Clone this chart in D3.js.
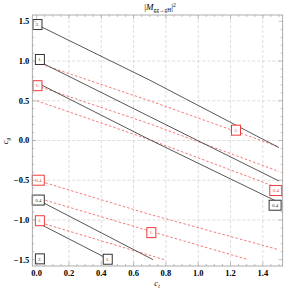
<!DOCTYPE html>
<html>
<head>
<meta charset="utf-8">
<script src="https://cdn.jsdelivr.net/npm/d3@7"></script>
<style>
  body { margin: 0; background: #fff; }
  text { font-family: "Liberation Serif", "DejaVu Serif", serif; }
</style>
</head>
<body>
<div id="chart"></div>
<script>
// contour lines, points as [c_t, c_g]
const blackLines = [
  { label: '2.',  pts: [[0, 1.46], [0.7, 0.76], [1.5, -0.09]] },
  { label: '1.',  pts: [[0, 1.01], [0.7, 0.30], [1.5, -0.51]] },
  { label: '0.4', pts: [[0, 0.73], [0.7, 0.01], [1.5, -0.78]] },
  { label: '0.4', pts: [[0, -0.74], [0.72, -1.5]] },
  { label: '1.',  pts: [[0, -1.03], [0.45, -1.5]] }
];
const redLines = [
  { label: '2.',  pts: [[0, 0.98], [0.7, 0.50], [1.5, -0.08]] },
  { label: '1.',  pts: [[0, 0.69], [0.7, 0.21], [1.5, -0.39]] },
  { label: '0.4', pts: [[0, 0.50], [0.7, 0.01], [1.5, -0.60]] },
  { label: '0.4', pts: [[0, -0.50], [0.7, -0.93], [1.49, -1.37]] },
  { label: '1.',  pts: [[0, -0.72], [0.7, -1.14], [1.31, -1.5]] },
  { label: '2.',  pts: [[0, -1.02], [0.79, -1.5]] }
];
// label boxes [c_t, c_g, text]
const blackBoxes = [
  [0.005, 1.46, '2.'], [0.02, 1.02, '1.'], [1.476, -0.815, '0.4'],
  [0.01, -0.75, '0.4'], [0.44, -1.495, '1.'], [0.02, -1.49, '2.']
];
const redBoxes = [
  [1.234, 0.13, '2.'], [0.005, 0.69, '1.'], [1.48, -0.63, '0.4'],
  [0.01, -0.50, '0.4'], [0.71, -1.16, '1.'], [0.02, -1.01, '2.']
];
const xTicks = [0, 0.2, 0.4, 0.6, 0.8, 1.0, 1.2, 1.4];
const yTicks = [-1.5, -1.0, -0.5, 0, 0.5, 1.0, 1.5];
const xGrid = [0.2, 0.4, 0.6, 0.8, 1.0, 1.2, 1.4];
const yGrid = [-1.0, -0.5, 0, 0.5, 1.0];

const W = 294, H = 289;
const L = 32.3, R = 282.7, T = 15, B = 266;
const x = d3.scaleLinear().domain([-0.027, 1.523]).range([L, R]);
const y = d3.scaleLinear().domain([-1.58, 1.58]).range([B, T]);

const svg = d3.select('#chart').append('svg')
  .attr('width', W).attr('height', H);

// grid
svg.append('g').selectAll('line').data(xGrid).enter().append('line')
  .attr('x1', d => x(d)).attr('x2', d => x(d))
  .attr('y1', T).attr('y2', B)
  .attr('stroke', '#d4d4d4').attr('stroke-width', 0.8).attr('stroke-dasharray', '3,2');
svg.append('g').selectAll('line').data(yGrid).enter().append('line')
  .attr('y1', d => y(d)).attr('y2', d => y(d))
  .attr('x1', L).attr('x2', R)
  .attr('stroke', '#d4d4d4').attr('stroke-width', 0.8).attr('stroke-dasharray', '3,2');

const line = d3.line().x(d => x(d[0])).y(d => y(d[1]));

svg.append('g').selectAll('path').data(redLines).enter().append('path')
  .attr('d', d => line(d.pts))
  .attr('fill', 'none').attr('stroke', '#f46a6a').attr('stroke-width', 0.9)
  .attr('stroke-dasharray', '2.5,2');
svg.append('g').selectAll('path').data(blackLines).enter().append('path')
  .attr('d', d => line(d.pts))
  .attr('fill', 'none').attr('stroke', '#444').attr('stroke-width', 0.9);

// label boxes
function boxes(data, col) {
  const g = svg.append('g').selectAll('g').data(data).enter().append('g')
    .attr('transform', d => `translate(${x(d[0])},${y(d[1])})`);
  g.append('rect')
    .attr('x', d => d[2].length > 2 ? -6 : -4.5)
    .attr('width', d => d[2].length > 2 ? 12 : 9)
    .attr('y', -5).attr('height', 10)
    .attr('fill', '#fff').attr('stroke', col).attr('stroke-width', 1);
  g.append('text')
    .attr('text-anchor', 'middle').attr('dy', '0.35em')
    .attr('font-size', 5).attr('fill', col === '#333' ? '#333' : '#e44')
    .text(d => d[2]);
}
boxes(redBoxes, '#ee3b3b');
boxes(blackBoxes, '#333');

// frame
svg.append('rect').attr('x', L).attr('y', T).attr('width', R - L).attr('height', B - T)
  .attr('fill', 'none').attr('stroke', '#999').attr('stroke-width', 0.8);

// ticks (major + minor) on all four sides
const xMinor = d3.range(0, 1.5001, 0.05);
const yMinor = d3.range(-1.5, 1.5001, 0.1);
const tk = svg.append('g').attr('stroke', '#999').attr('stroke-width', 0.6);
xMinor.forEach(v => {
  const major = xTicks.some(t => Math.abs(t - v) < 1e-6);
  const len = major ? 4 : 2;
  tk.append('line').attr('x1', x(v)).attr('x2', x(v)).attr('y1', B).attr('y2', B - len);
  tk.append('line').attr('x1', x(v)).attr('x2', x(v)).attr('y1', T).attr('y2', T + len);
});
yMinor.forEach(v => {
  const major = yTicks.some(t => Math.abs(t - v) < 1e-6);
  const len = major ? 4 : 2;
  tk.append('line').attr('y1', y(v)).attr('y2', y(v)).attr('x1', L).attr('x2', L + len);
  tk.append('line').attr('y1', y(v)).attr('y2', y(v)).attr('x1', R).attr('x2', R - len);
});

const fmt = v => (v < 0 ? '\u2212' : '') + Math.abs(v).toFixed(1);
svg.append('g').selectAll('text').data(xTicks).enter().append('text')
  .attr('x', d => x(d)).attr('y', B + 10)
  .attr('text-anchor', 'middle').attr('font-size', 8.5).attr('font-weight', 'bold')
  .text(fmt);
svg.append('g').selectAll('text').data(yTicks).enter().append('text')
  .attr('x', L - 3).attr('y', d => y(d)).attr('dy', '0.35em')
  .attr('text-anchor', 'end').attr('font-size', 8.5).attr('font-weight', 'bold')
  .text(fmt);

// axis titles
const xt = svg.append('text').attr('x', 157).attr('y', 286)
  .attr('text-anchor', 'middle').attr('font-size', 8.5);
xt.append('tspan').attr('font-style', 'italic').text('c');
xt.append('tspan').attr('font-size', 5.5).attr('dy', 1.5).attr('font-style', 'italic').text('t');

const yt = svg.append('text').attr('transform', 'translate(8,141) rotate(-90)')
  .attr('text-anchor', 'middle').attr('font-size', 8.5);
yt.append('tspan').attr('font-style', 'italic').text('c');
yt.append('tspan').attr('font-size', 5.5).attr('dy', 1.5).attr('font-style', 'italic').text('g');

const tt = svg.append('text').attr('x', 160).attr('y', 10)
  .attr('text-anchor', 'middle').attr('font-size', 9);
tt.append('tspan').text('|');
tt.append('tspan').attr('font-style', 'italic').text('M');
tt.append('tspan').attr('font-size', 5.5).attr('dy', 1.5).text('gg\u2192gH');
tt.append('tspan').attr('dy', -1.5).text('|');
tt.append('tspan').attr('font-size', 5.5).attr('dy', -3).text('2');
</script>
</body>
</html>
